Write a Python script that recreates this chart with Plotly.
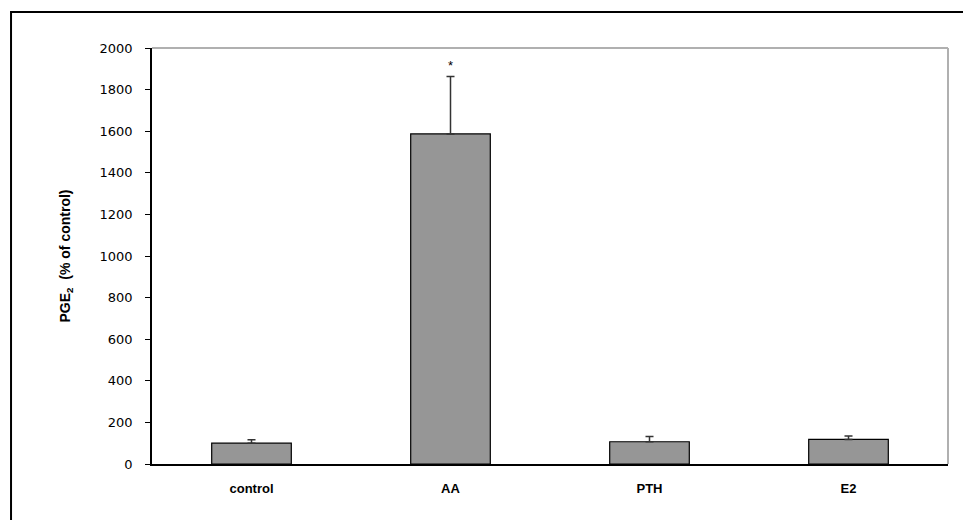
import plotly.graph_objects as go

categories = ["control", "AA", "PTH", "E2"]
values = [100, 1587, 107, 118]
errors = [16, 276, 25, 17]
significance = ["", "*", "", ""]
y_ticks = list(range(0, 2001, 200))

fig = go.Figure()
fig.add_trace(go.Bar(
    x=categories, y=values,
    marker=dict(color="#969696", line=dict(color="black", width=1.2)),
    error_y=dict(type="data", array=errors, symmetric=False, arrayminus=[0]*4,
                 color="#333333", thickness=1.5, width=4),
    width=0.4,
))

for c, v, e, s in zip(categories, values, errors, significance):
    if s:
        fig.add_annotation(x=c, y=v + e, text=s, showarrow=False, yanchor="bottom",
                           yshift=2, font=dict(family="Arial, Liberation Sans", size=13, color="black"))

fig.update_layout(
    width=971, height=520,
    margin=dict(l=144, r=31, t=40, b=64),
    paper_bgcolor="white", plot_bgcolor="white",
    showlegend=False,
    font=dict(family="Arial, Liberation Sans", color="black"),
    xaxis=dict(
        showline=True, linecolor="black", linewidth=1.5,
        ticks="", showgrid=False, zeroline=False,
        tickfont=dict(size=13, weight="bold", family="Arial, Liberation Sans"),
        ticklabelstandoff=12,
    ),
    yaxis=dict(
        range=[0, 2000], tickvals=y_ticks,
        showline=True, linecolor="black", linewidth=1.5,
        ticks="outside", ticklen=5, tickcolor="black", tickwidth=1,
        showgrid=False, zeroline=False,
        tickfont=dict(size=13, family="DejaVu Sans"),
        ticklabelstandoff=10,
        title=dict(text="PGE<sub>2</sub>  (% of control)",
                   font=dict(size=14, weight="bold", family="Arial, Liberation Sans"),
                   standoff=26),
    ),
    shapes=[
        dict(type="line", xref="paper", yref="paper", x0=0, x1=1, y0=1, y1=1,
             line=dict(color="#b0b0b0", width=2)),
        dict(type="line", xref="paper", yref="paper", x0=1, x1=1, y0=0, y1=1,
             line=dict(color="#b0b0b0", width=2)),
        dict(type="rect", xref="paper", yref="paper", x0=-0.1771, x1=1.2, y0=-0.3, y1=1.0865,
             line=dict(color="black", width=2), fillcolor="rgba(0,0,0,0)"),
    ],
)

fig.write_html("out.html")
